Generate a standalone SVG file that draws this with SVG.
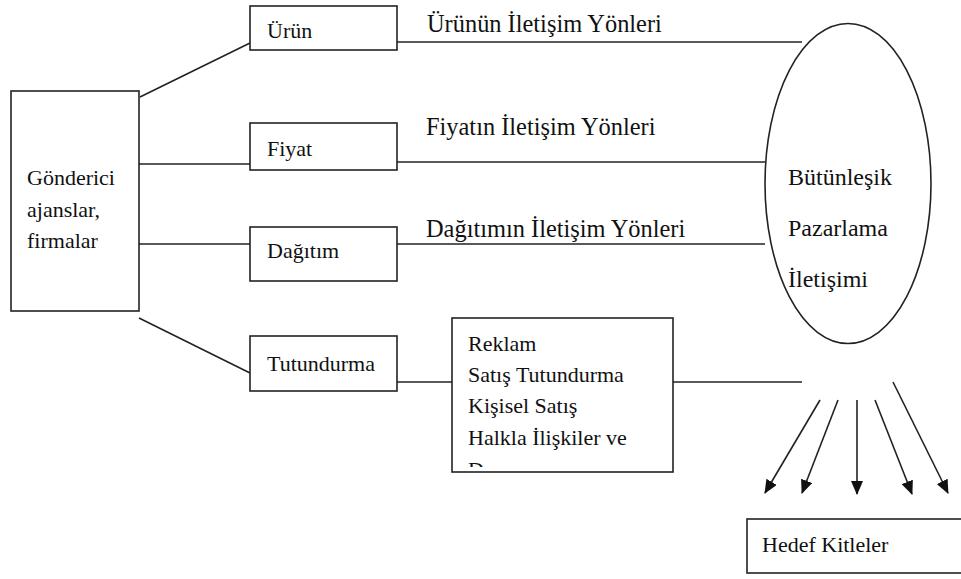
<svg xmlns="http://www.w3.org/2000/svg" width="961" height="579" viewBox="0 0 961 579">
<style>
.box{fill:#fff;stroke:#222;stroke-width:1.6}
.ln{fill:none;stroke:#222;stroke-width:1.6}
text{font-family:'Liberation Serif','Times New Roman',Times,serif;fill:#111}
.t{font-size:22px}
.lbl{font-size:24.4px}
.big{font-size:24px}
.alt{font-family:'DejaVu Serif',serif}
</style>
<defs>
<marker id="ah" viewBox="0 0 14 12" refX="13" refY="6" markerWidth="14" markerHeight="12" markerUnits="userSpaceOnUse" orient="auto">
<path d="M0,0 L14,6 L0,12 Z" fill="#111"/>
</marker>
<clipPath id="clipR"><rect x="452" y="318" width="221" height="149"/></clipPath>
</defs>
<g id="connectors">
<line class="ln" x1="140" y1="97" x2="250" y2="43"/>
<line class="ln" x1="139" y1="164" x2="250" y2="164"/>
<line class="ln" x1="139" y1="244" x2="250" y2="244"/>
<line class="ln" x1="139" y1="318" x2="250" y2="373"/>
<line class="ln" x1="397" y1="42" x2="802" y2="42"/>
<line class="ln" x1="397" y1="162" x2="765" y2="162"/>
<line class="ln" x1="397" y1="244" x2="765" y2="244"/>
<line class="ln" x1="397" y1="382" x2="452" y2="382"/>
<line class="ln" x1="673" y1="382" x2="802" y2="382"/>
<line class="ln" x1="820" y1="400" x2="765" y2="493" marker-end="url(#ah)"/>
<line class="ln" x1="838" y1="400" x2="802" y2="493" marker-end="url(#ah)"/>
<line class="ln" x1="857" y1="400" x2="857" y2="494" marker-end="url(#ah)"/>
<line class="ln" x1="875" y1="400" x2="912" y2="494" marker-end="url(#ah)"/>
<line class="ln" x1="893" y1="382" x2="948" y2="493" marker-end="url(#ah)"/>
<text class="lbl" x="427" y="32" font-family="Liberation Serif">Ürünün İletişim Yönleri</text>
<text class="lbl" x="426" y="135">Fiyatın İletişim Yönleri</text>
<text class="lbl" x="426" y="237">Dağıtımın İletişim Yönleri</text>
</g>
<g id="gonderici">
<rect class="box" x="11" y="91" width="128" height="220"/>
<text class="t" x="27" y="185">Gönderici</text>
<text class="t" x="27" y="217">ajanslar,</text>
<text class="t" x="27" y="248">firmalar</text>
</g>
<g id="urun">
<rect class="box" x="250" y="6" width="147" height="44"/>
<text class="t" x="267" y="38">Ürün</text>
</g>
<g id="fiyat">
<rect class="box" x="250" y="123" width="147" height="47"/>
<text class="t" x="267" y="156">Fiyat</text>
</g>
<g id="dagitim">
<rect class="box" x="250" y="227" width="147" height="54"/>
<text class="t" x="267" y="258">Dağıtım</text>
</g>
<g id="tutundurma">
<rect class="box" x="250" y="336" width="147" height="55"/>
<text class="t" x="267" y="371">Tutundurma</text>
</g>
<g id="araclar">
<rect class="box" x="452" y="318" width="221" height="154"/>
<text class="t" x="468" y="351">Reklam</text>
<text class="t" x="468" y="382">Satış Tutundurma</text>
<text class="t" x="468" y="413">Kişisel Satış</text>
<text class="t" x="468" y="445">Halkla İlişkiler ve</text>
<text class="t" x="468" y="477" clip-path="url(#clipR)">Duyurum</text>
</g>
<g id="bpi">
<ellipse class="box" cx="848" cy="183.5" rx="83" ry="160"/>
<text class="big" x="788" y="185">Bütünleşik</text>
<text class="big" x="788" y="236">Pazarlama</text>
<text class="big" x="788" y="287">İletişimi</text>
</g>
<g id="hedef">
<rect class="box" x="747" y="519" width="220" height="54"/>
<text class="t" x="762" y="552">Hedef Kitleler</text>
</g>
</svg>
